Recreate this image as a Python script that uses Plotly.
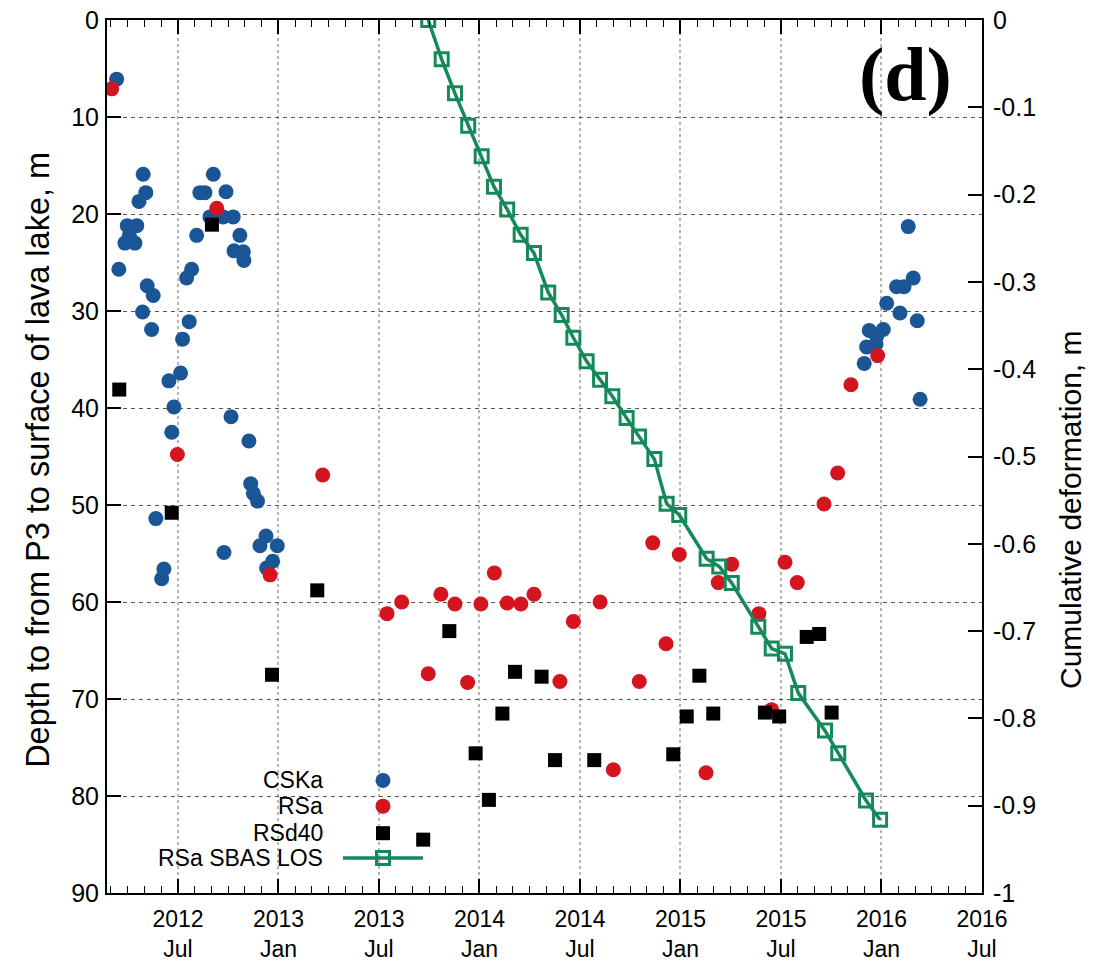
import plotly.graph_objects as go

# ---------------- data (decimal years, depth in m / deformation in m) ----------------
csk_year = [2012.195, 2012.206, 2012.236, 2012.248, 2012.258, 2012.286, 2012.295, 2012.306,
            2012.324, 2012.327, 2012.340, 2012.347, 2012.369, 2012.377, 2012.390, 2012.419,
            2012.430, 2012.455, 2012.469, 2012.480, 2012.513, 2012.523, 2012.543, 2012.556,
            2012.568, 2012.593, 2012.609, 2012.634, 2012.659, 2012.676, 2012.725, 2012.729,
            2012.739, 2012.764, 2012.775, 2012.779, 2012.808, 2012.825, 2012.828, 2012.853,
            2012.862, 2012.875, 2012.896, 2012.908, 2012.938, 2012.941, 2012.971, 2012.994,
            2015.914, 2015.926, 2015.939, 2015.973, 2015.976, 2016.009, 2016.026, 2016.075,
            2016.092, 2016.112, 2016.133, 2016.158, 2016.178, 2016.192]
csk_depth = [6.1, 25.7, 23.0, 21.2, 22.2, 23.0, 21.2, 18.7,
             30.1, 15.9, 17.8, 27.4, 31.9, 28.4, 51.4, 57.6,
             56.6, 37.2, 42.5, 39.9, 36.4, 32.9, 26.6, 31.1,
             25.7, 22.2, 17.8, 17.8, 20.3, 15.9, 20.3, 54.9,
             17.7, 40.9, 20.3, 23.8, 22.2, 23.9, 24.8, 43.4,
             47.8, 48.8, 49.6, 54.2, 53.2, 56.5, 55.8, 54.2,
             35.4, 33.7, 32.0, 33.4, 32.6, 31.9, 29.2, 27.5,
             30.2, 27.5, 21.3, 26.6, 31.0, 39.1]

rsa_year = [2012.170, 2012.497, 2012.693, 2012.958, 2013.220, 2013.540, 2013.613, 2013.745,
            2013.808, 2013.878, 2013.941, 2014.007, 2014.074, 2014.138, 2014.206, 2014.271,
            2014.400, 2014.467, 2014.600, 2014.666, 2014.795, 2014.862, 2014.928, 2014.994,
            2015.127, 2015.188, 2015.255, 2015.390, 2015.453, 2015.520, 2015.581, 2015.714,
            2015.782, 2015.848, 2015.981]
rsa_depth = [7.1, 44.8, 19.4, 57.2, 46.9, 61.2, 60.0, 67.4,
             59.2, 60.2, 68.3, 60.2, 57.0, 60.1, 60.2, 59.2,
             68.2, 62.0, 60.0, 77.3, 68.2, 53.9, 64.3, 55.1,
             77.6, 58.0, 56.1, 61.2, 71.1, 55.9, 58.0, 49.9,
             46.7, 37.6, 34.6]

rsd_year = [2012.208, 2012.469, 2012.669, 2012.968, 2013.193, 2013.720, 2013.850, 2013.981,
            2014.047, 2014.114, 2014.177, 2014.309, 2014.376, 2014.571, 2014.964, 2015.031,
            2015.094, 2015.163, 2015.420, 2015.491, 2015.628, 2015.690, 2015.752]
rsd_depth = [38.1, 50.8, 21.1, 67.5, 58.8, 84.5, 63.0, 75.6,
             80.4, 71.5, 67.2, 67.7, 76.3, 76.3, 75.7, 71.8,
             67.6, 71.5, 71.4, 71.8, 63.6, 63.3, 71.4]

sbas_year = [2013.745, 2013.812, 2013.878, 2013.944, 2014.011, 2014.072, 2014.138, 2014.205,
             2014.271, 2014.342, 2014.409, 2014.467, 2014.533, 2014.600, 2014.661, 2014.732,
             2014.794, 2014.870, 2014.931, 2014.994, 2015.130, 2015.193, 2015.255, 2015.387,
             2015.454, 2015.520, 2015.586, 2015.719, 2015.785, 2015.923, 2015.993]
sbas_def = [0.0, -0.045, -0.084, -0.121, -0.156, -0.191, -0.217, -0.246,
            -0.267, -0.312, -0.338, -0.364, -0.391, -0.412, -0.431, -0.456,
            -0.477, -0.503, -0.554, -0.567, -0.617, -0.626, -0.645, -0.695,
            -0.720, -0.726, -0.771, -0.814, -0.840, -0.894, -0.916]

x_tickvals = [2012.5, 2013.0, 2013.5, 2014.0, 2014.5, 2015.0, 2015.5, 2016.0, 2016.5]
x_ticktext = ["2012<br>Jul", "2013<br>Jan", "2013<br>Jul", "2014<br>Jan", "2014<br>Jul",
              "2015<br>Jan", "2015<br>Jul", "2016<br>Jan", "2016<br>Jul"]
y2_tickvals = [0, -0.1, -0.2, -0.3, -0.4, -0.5, -0.6, -0.7, -0.8, -0.9, -1.0]
y2_ticktext = ["0", "-0.1", "-0.2", "-0.3", "-0.4", "-0.5", "-0.6", "-0.7", "-0.8", "-0.9", "-1"]

series_names = ["CSKa", "RSa", "RSd40", "RSa SBAS LOS"]

# ---------------- styling ----------------
BLUE = "#1a5596"
RED = "#d4141f"
BLACK = "#000000"
GREEN = "#16895a"
FONT = "Liberation Sans, Arial, Helvetica, sans-serif"
XTICK_SIZE = 23
YTICK_SIZE = 25
KEY_SIZE = 23

fig = go.Figure()
fig.add_trace(go.Scatter(x=csk_year, y=csk_depth, mode="markers", name=series_names[0],
                         marker=dict(color=BLUE, size=15, symbol="circle"), showlegend=False))
fig.add_trace(go.Scatter(x=rsa_year, y=rsa_depth, mode="markers", name=series_names[1],
                         marker=dict(color=RED, size=15, symbol="circle"), showlegend=False))
fig.add_trace(go.Scatter(x=rsd_year, y=rsd_depth, mode="markers", name=series_names[2],
                         marker=dict(color=BLACK, size=14, symbol="square"), showlegend=False))
fig.add_trace(go.Scatter(x=sbas_year, y=sbas_def, mode="lines+markers", name=series_names[3],
                         yaxis="y2",
                         line=dict(color=GREEN, width=3.5),
                         marker=dict(symbol="square-open", size=13, color=GREEN,
                                     line=dict(color=GREEN, width=3)),
                         showlegend=False))

fig.update_layout(
    width=1102, height=963,
    margin=dict(l=107, r=120, t=20, b=70, autoexpand=False),
    paper_bgcolor="white", plot_bgcolor="white",
    font=dict(family=FONT, size=YTICK_SIZE, color="black"),
    xaxis=dict(
        range=[2012.147, 2016.5], tickmode="array", tickvals=x_tickvals, ticktext=x_ticktext,
        ticks="inside", ticklen=14, tickwidth=1.5, tickcolor="black",
        showline=True, linewidth=2, linecolor="black", mirror="ticks",
        showgrid=True, gridcolor="#b5b5b5", griddash="dot", gridwidth=1.5,
        zeroline=False, automargin=False, tickfont=dict(size=XTICK_SIZE),
        ticklabelstandoff=4,
        minor=dict(tickmode="linear", tick0=2012.5, dtick=1 / 12, ticks="inside",
                   ticklen=7, tickwidth=1.2, tickcolor="black", showgrid=False),
    ),
    yaxis=dict(
        range=[90, 0], tickmode="linear", tick0=0, dtick=10,
        ticks="inside", ticklen=14, tickwidth=1.5, tickcolor="black",
        showline=True, linewidth=2, linecolor="black", mirror=False,
        showgrid=True, gridcolor="#555555", griddash="4px,4px", gridwidth=1,
        zeroline=False, automargin=False, tickfont=dict(size=YTICK_SIZE),
        ticklabelstandoff=1,
    ),
    yaxis2=dict(
        overlaying="y", side="right", range=[-1, 0],
        tickmode="array", tickvals=y2_tickvals, ticktext=y2_ticktext,
        ticks="inside", ticklen=14, tickwidth=1.5, tickcolor="black",
        showline=True, linewidth=2, linecolor="black",
        showgrid=False, zeroline=False, automargin=False, tickfont=dict(size=YTICK_SIZE),
        ticklabelstandoff=4,
    ),
)

# axis titles and panel label
annotations = [
    dict(text="Depth to from P3 to surface of lava lake, m", textangle=-90,
         xref="paper", yref="paper", x=-0.079, y=0.496, xanchor="center", yanchor="middle",
         showarrow=False, font=dict(size=32.5)),
    dict(text="Cumulative deformation, m", textangle=-90,
         xref="paper", yref="paper", x=1.102, y=0.439, xanchor="center", yanchor="middle",
         showarrow=False, font=dict(size=30)),
    dict(text="<b>(d)</b>", xref="paper", yref="paper", x=0.912, y=0.937,
         xanchor="center", yanchor="middle", showarrow=False,
         font=dict(family="Liberation Serif, Times New Roman, serif", size=76)),
]

# custom key (gnuplot style: text right-aligned, sample to the right)
key_rows_y = [0.129, 0.0995, 0.0685, 0.040]
key_text_x = 0.249
key_sample_x = 0.3154
for name, ky in zip(series_names, key_rows_y):
    annotations.append(dict(text=name, xref="paper", yref="paper", x=key_text_x, y=ky,
                            xanchor="right", yanchor="middle", showarrow=False,
                            font=dict(size=KEY_SIZE)))

shapes = [
    dict(type="circle", xref="paper", yref="paper", xsizemode="pixel", ysizemode="pixel",
         xanchor=key_sample_x, yanchor=key_rows_y[0], x0=-7.5, x1=7.5, y0=-7.5, y1=7.5,
         fillcolor=BLUE, line=dict(width=0)),
    dict(type="circle", xref="paper", yref="paper", xsizemode="pixel", ysizemode="pixel",
         xanchor=key_sample_x, yanchor=key_rows_y[1], x0=-7.5, x1=7.5, y0=-7.5, y1=7.5,
         fillcolor=RED, line=dict(width=0)),
    dict(type="rect", xref="paper", yref="paper", xsizemode="pixel", ysizemode="pixel",
         xanchor=key_sample_x, yanchor=key_rows_y[2], x0=-7, x1=7, y0=-7, y1=7,
         fillcolor=BLACK, line=dict(width=0)),
    dict(type="line", xref="paper", yref="paper", x0=0.2697, x1=0.3611,
         y0=key_rows_y[3], y1=key_rows_y[3], line=dict(color=GREEN, width=3.5)),
    dict(type="rect", xref="paper", yref="paper", xsizemode="pixel", ysizemode="pixel",
         xanchor=key_sample_x, yanchor=key_rows_y[3], x0=-6.5, x1=6.5, y0=-6.5, y1=6.5,
         line=dict(color=GREEN, width=3)),
]

fig.update_layout(annotations=annotations, shapes=shapes)
fig.write_html("out.html",
               config={"displayModeBar": False},
               post_script="document.body.style.margin='0';document.body.style.padding='0';")
